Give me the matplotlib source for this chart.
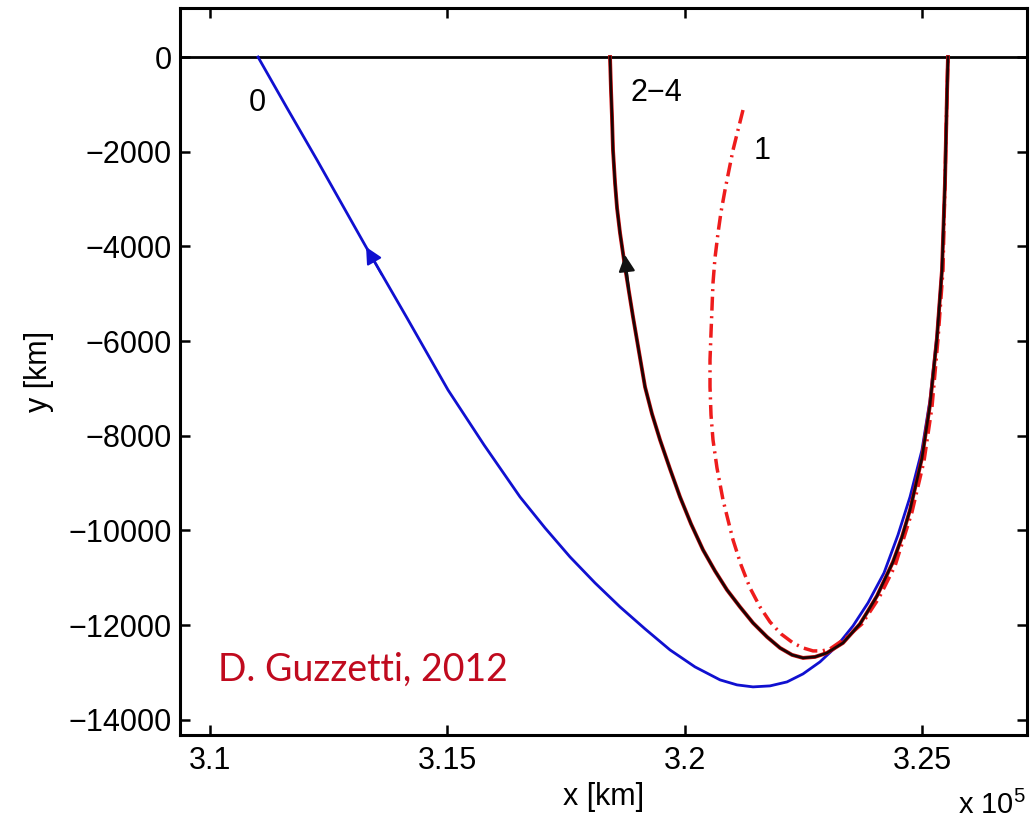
import matplotlib
matplotlib.use("Agg")
import matplotlib.pyplot as plt
from matplotlib.ticker import FuncFormatter

plt.rcParams['font.family'] = ['Liberation Sans', 'DejaVu Sans']
plt.rcParams['mathtext.fontset'] = 'custom'
plt.rcParams['mathtext.rm'] = 'Liberation Sans'

# Trajectory 0 (blue), km
x0 = [311011, 311622, 312254, 313287, 314150, 315014, 315773, 316531, 317058, 317584,
      318111, 318638, 319165, 319691, 320218, 320745, 321103, 321440, 321798, 322156,
      322493, 322851, 323210, 323547, 323863, 324200, 324495, 324748, 325000, 325169,
      325316, 325422, 325485, 325527, 325548]
y0 = [0, -1077, -2175, -4012, -5511, -7032, -8193, -9291, -9946, -10558,
      -11107, -11614, -12078, -12522, -12881, -13155, -13261, -13303, -13282, -13198,
      -13029, -12775, -12437, -12015, -11529, -10896, -10093, -9291, -8299, -7243,
      -5870, -4455, -2640, -781, 0]

# Trajectories 2-4 (black), km
x24 = [318427, 318448, 318469, 318490, 318533, 318575, 318638, 318743, 318827, 318912,
       319038, 319165, 319312, 319481, 319691, 319902, 320134, 320387, 320639, 320892,
       321166, 321440, 321735, 322009, 322262, 322493, 322746, 322999, 323336, 323694,
       323863, 324052, 324389, 324579, 324748, 325000, 325169, 325316, 325422, 325485,
       325527, 325548]
y24 = [0, -697, -1267, -1964, -2661, -3189, -3716, -4434, -4962, -5490,
       -6229, -6968, -7538, -8087, -8700, -9291, -9861, -10410, -10854, -11255,
       -11614, -11952, -12247, -12480, -12627, -12691, -12670, -12585, -12374, -11973,
       -11698, -11382, -10664, -10136, -9566, -8468, -7348, -5934, -4498, -2640,
       -781, 0]

# Trajectory 1 (red dash-dot), km
x1 = [321229, 321124, 321019, 320934, 320850, 320766, 320703, 320639, 320597, 320576,
      320555, 320534, 320534, 320555, 320597, 320681, 320808, 320913, 321019, 321187,
      321377, 321587, 321798, 322030, 322283, 322493, 322704, 322894, 323062, 323399,
      323736, 324094, 324432, 324790, 325043, 325211, 325338, 325443, 325485, 325527,
      325548]
y1 = [-1119, -1541, -1964, -2386, -2808, -3273, -3716, -4244, -4772, -5300,
      -5828, -6398, -6968, -7560, -8087, -8679, -9354, -9777, -10199, -10727,
      -11213, -11614, -11931, -12184, -12374, -12480, -12543, -12543, -12501, -12268,
      -11973, -11424, -10748, -9608, -8531, -7391, -5955, -4498, -2640, -781,
      0]

xticks = [310000, 315000, 320000, 325000]
yticks = [0, -2000, -4000, -6000, -8000, -10000, -12000, -14000]

fig = plt.figure(figsize=(10.33, 8.27), dpi=100)
ax = fig.add_axes([0.1743, 0.1112, 0.8199, 0.8791])

ax.axhline(0, color='black', lw=2.0, zorder=1)
ax.plot(x0, y0, color='#1010d0', lw=2.0, zorder=2, solid_joinstyle='round')
ax.plot(x1, y1, color='#ee1c1c', lw=2.5, linestyle=(0, (4, 1.6, 0.6, 1.6)), zorder=3)
ax.plot(x24, y24, color='#d01010', lw=2.8, zorder=4, solid_joinstyle='round')
ax.plot(x24, y24, color='#1a0505', lw=1.9, zorder=5, solid_joinstyle='round')

# direction arrows
ax.annotate('', xy=(313287, -4012), xytext=(313620, -4600),
            arrowprops=dict(arrowstyle='-|>,head_length=1.0,head_width=0.5',
                            color='#1010d0', lw=1.5, shrinkA=0, shrinkB=0), zorder=6)
ax.annotate('', xy=(318743, -4181), xytext=(318827, -4920),
            arrowprops=dict(arrowstyle='-|>,head_length=1.0,head_width=0.5',
                            color='#111111', lw=1.5, shrinkA=0, shrinkB=0), zorder=6)

# curve labels
ax.text(311000, -971, '0', fontsize=22, ha='center', va='center')
ax.text(318850, -760, '2\u22124', fontsize=22, ha='left', va='center')
ax.text(321450, -1980, '1', fontsize=22, ha='left', va='center')

ax.text(310170, -12950, 'D. Guzzetti, 2012', fontsize=27, color='#c00a1e',
        family=['Lato', 'DejaVu Sans'], ha='left', va='center')

ax.set_xlim(309368, 327213)
ax.set_ylim(-14320, 1035)
ax.set_xticks(xticks)
ax.set_yticks(yticks)
ax.xaxis.set_major_formatter(FuncFormatter(lambda v, p: f'{v/1e5:g}'))
ax.tick_params(direction='in', length=7, width=1.8, labelsize=22,
               top=True, right=True)
ax.tick_params(axis='y', pad=6)
ax.tick_params(axis='x', pad=8)
for s in ax.spines.values():
    s.set_linewidth(2.2)

ax.set_xlabel('x [km]', fontsize=22, labelpad=4)
ax.set_ylabel('y [km]', fontsize=22, labelpad=10)
ax.text(0.999, -0.108, r'x 10$^{5}$', transform=ax.transAxes, fontsize=21,
        ha='right', va='baseline')

fig.savefig('out.png', dpi=100)
